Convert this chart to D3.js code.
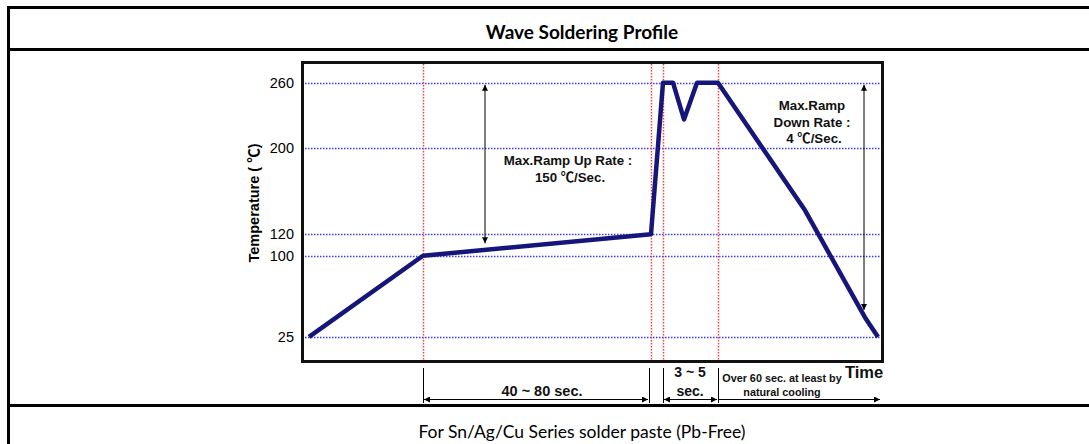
<!DOCTYPE html>
<html>
<head>
<meta charset="utf-8">
<script src="https://cdn.jsdelivr.net/npm/d3@7"></script>
<style>
  body { margin: 0; background: #fff; }
  svg { display: block; }
  .arial { font-family: 'Liberation Sans', Arial, 'Noto Sans CJK SC', sans-serif; }
</style>
</head>
<body>
<div id="chart"></div>
<script>
// profile (time in s, temperature in ℃)
const profileTime = [3.5, 60.5, 174.5, 180.5, 185.5, 191, 197.5, 208, 251.5, 281.5, 288]
const profileTemp = [25, 100, 120, 260, 260, 226, 260, 260, 142, 43, 25]
const tempTicks = [25, 100, 120, 200, 260]
const phaseLines = [60.5, 174.5, 180.5, 208]
const spanMarks = [60.5, 173.5, 180.5, 208]
const spans = [[60.5, 173.5], [180.5, 208]]

const width = 1089, height = 444
const svg = d3.select('#chart').append('svg')
  .attr('width', width)
  .attr('height', height)

const x = d3.scaleLinear().domain([0, 290]).range([302, 882])
const y = d3.scaleLinear().domain([0, 280]).range([364, 61])

// table frame
const tbl = svg.append('g').attr('stroke', '#000').attr('stroke-width', 3)
tbl.append('line').attr('x1', 7).attr('x2', width).attr('y1', 7.5).attr('y2', 7.5)
tbl.append('line').attr('x1', 7).attr('x2', width).attr('y1', 49.5).attr('y2', 49.5)
tbl.append('line').attr('x1', 7).attr('x2', width).attr('y1', 405.5).attr('y2', 405.5)
tbl.append('line').attr('x1', 8.5).attr('x2', 8.5).attr('y1', 6).attr('y2', height)

svg.append('text')
  .attr('x', 582).attr('y', 39)
  .attr('text-anchor', 'middle')
  .style('font-family', 'Lato, "Open Sans", sans-serif')
  .style('font-weight', 'bold')
  .style('font-size', '19px')
  .text('Wave Soldering Profile')

svg.append('text')
  .attr('x', 582).attr('y', 438)
  .attr('text-anchor', 'middle')
  .style('font-family', 'Lato, "Open Sans", sans-serif')
  .style('font-size', '17.5px')
  .text('For Sn/Ag/Cu Series solder paste (Pb-Free)')

// markers
const defs = svg.append('defs')
defs.append('marker')
  .attr('id', 'head')
  .attr('viewBox', '0 0 10 10')
  .attr('refX', 10).attr('refY', 5)
  .attr('markerWidth', 7).attr('markerHeight', 6)
  .attr('markerUnits', 'userSpaceOnUse')
  .attr('orient', 'auto-start-reverse')
  .append('path').attr('d', 'M0,0L10,5L0,10Z').attr('fill', '#000')

// grid lines
const g = svg.append('g')
g.selectAll('.hgrid')
  .data(tempTicks)
  .enter().append('line')
  .attr('x1', x(0)).attr('x2', x(290))
  .attr('y1', d => Math.round(y(d)) + 0.5).attr('y2', d => Math.round(y(d)) + 0.5)
  .attr('stroke', '#3b3bff')
  .attr('stroke-width', 1.5)
  .attr('stroke-dasharray', '1.5,1.5')

g.selectAll('.vgrid')
  .data(phaseLines)
  .enter().append('line')
  .attr('x1', d => Math.round(x(d)) + 0.5).attr('x2', d => Math.round(x(d)) + 0.5)
  .attr('y1', y(280)).attr('y2', 362)
  .attr('stroke', '#ff4040')
  .attr('stroke-width', 1.5)
  .attr('stroke-dasharray', '1.5,1.5')

// tick labels
g.selectAll('.ylab')
  .data(tempTicks)
  .enter().append('text')
  .attr('class', 'arial')
  .attr('x', 294)
  .attr('y', d => y(d))
  .attr('dy', '0.36em')
  .attr('text-anchor', 'end')
  .style('font-size', '14.5px')
  .text(d => d)

svg.append('text')
  .attr('class', 'arial')
  .attr('transform', 'translate(259,203) rotate(-90)')
  .attr('text-anchor', 'middle')
  .style('font-weight', 'bold')
  .style('font-size', '14.5px')
  .text('Temperature ( ℃)')

// profile line
const pts = profileTime.map((t, i) => [t, profileTemp[i]])
g.append('path')
  .datum(pts)
  .attr('fill', 'none')
  .attr('stroke', '#16167a')
  .attr('stroke-width', 4.5)
  .attr('stroke-linejoin', 'round')
  .attr('d', d3.line().x(d => x(d[0])).y(d => y(d[1])))

// plot frame
svg.append('rect')
  .attr('x', 302.5).attr('y', 62.5)
  .attr('width', 580).attr('height', 299)
  .attr('fill', 'none')
  .attr('stroke', '#111')
  .attr('stroke-width', 3)

// rate arrows
function arrow(x1, y1, x2, y2, both) {
  const l = svg.append('line')
    .attr('x1', x1).attr('y1', y1).attr('x2', x2).attr('y2', y2)
    .attr('stroke', '#000').attr('stroke-width', 1)
    .attr('marker-end', 'url(#head)')
  if (both) l.attr('marker-start', 'url(#head)')
}
arrow(x(91.5), y(258), x(91.5), y(111.5), true)
arrow(x(281), y(258), x(281), y(50), true)

const ann = svg.append('g').attr('class', 'arial')
  .style('font-weight', 'bold')
  .attr('text-anchor', 'middle')
  .attr('fill', '#111')
ann.append('text').attr('x', 568).attr('y', 165).style('font-size', '13.3px').text('Max.Ramp Up Rate :')
ann.append('text').attr('x', 570).attr('y', 182).style('font-size', '13.3px').text('150 ℃/Sec.')
ann.append('text').attr('x', 812).attr('y', 110).style('font-size', '13.3px').text('Max.Ramp')
ann.append('text').attr('x', 812).attr('y', 127).style('font-size', '13.3px').text('Down Rate :')
ann.append('text').attr('x', 814).attr('y', 143).style('font-size', '13.3px').text('4 ℃/Sec.')

// time spans below plot
svg.selectAll('.mark')
  .data(spanMarks)
  .enter().append('line')
  .attr('x1', d => Math.round(x(d)) + 0.5).attr('x2', d => Math.round(x(d)) + 0.5)
  .attr('y1', 368).attr('y2', 403)
  .attr('stroke', '#000').attr('stroke-width', 1)
spans.forEach(s => arrow(x(s[0]) + 1, 399.5, x(s[1]) - 1, 399.5, true))
arrow(x(208) + 1, 399.5, x(289), 399.5, false)

ann.append('text').attr('x', x(120)).attr('y', 396).style('font-size', '14.5px').text('40 ~ 80 sec.')
ann.append('text').attr('x', x(194)).attr('y', 377).style('font-size', '14px').text('3 ~ 5')
ann.append('text').attr('x', x(194)).attr('y', 396).style('font-size', '14px').text('sec.')
ann.append('text').attr('x', 782).attr('y', 382).style('font-size', '10.8px').text('Over 60 sec. at least by')
ann.append('text').attr('x', 782).attr('y', 396).style('font-size', '10.8px').text('natural cooling')
ann.append('text').attr('x', 864).attr('y', 378).style('font-size', '16.5px').text('Time')
</script>
</body>
</html>
